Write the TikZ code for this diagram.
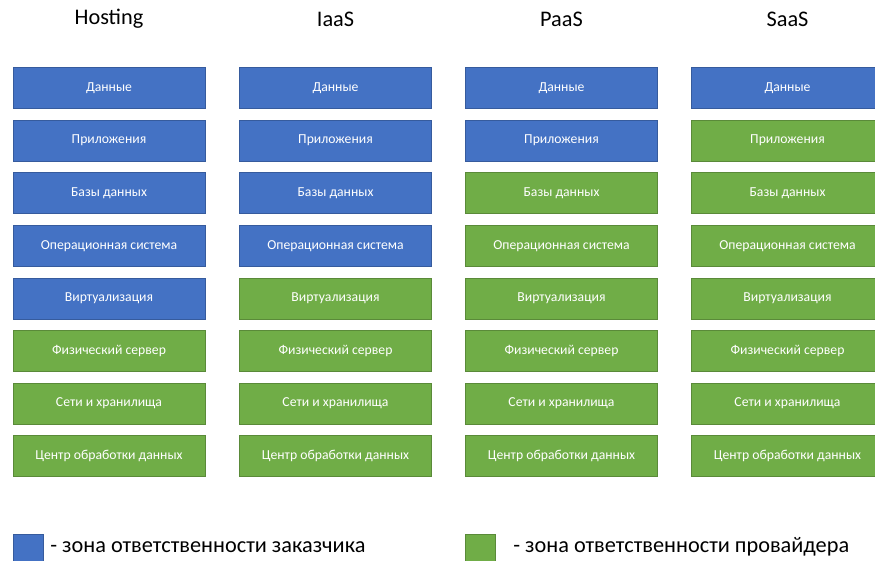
\documentclass[tikz,border=0pt]{standalone}
\usepackage{fontspec}
\setmainfont{Carlito}
\usepackage{tikz}

\definecolor{custblue}{HTML}{4472C4}
\definecolor{provgreen}{HTML}{70AD47}

\tikzset{
    layer/.style={minimum width=192pt, minimum height=41pt, inner sep=0pt,
        text=white, font=\fontsize{13.7}{15}\selectfont},
    custlayer/.style={layer, fill=custblue, draw=custblue!80!black},
    provlayer/.style={layer, fill=provgreen, draw=provgreen!80!black},
    header/.style={font=\fontsize{22.3}{25}\selectfont},
    legendtext/.style={anchor=west, inner sep=0pt, font=\fontsize{22.3}{25}\selectfont}
}

\begin{document}
\begin{tikzpicture}[x=1pt, y=-1pt, line width=0.6pt]
            \useasboundingbox (0, 0) rectangle (875, 560);
            \clip (0, 0) rectangle (875, 560);

            % one column of layers: #1 name, #2 x centre, #3 how many belong to the customer
            \newcommand{\servicecolumn}[3]{
                \node[header] (#1-title) at (#2, 19) {#1};
                \foreach \layertext [count=\row] in {Данные, Приложения, Базы данных,
                        Операционная система, Виртуализация, Физический сервер,
                        Сети и хранилища, Центр обработки данных} {
                    \ifnum\row>#3
                        \node[provlayer] (#1-\row) at (#2, 88+52.6*\row-52.6) {\layertext};
                    \else
                        \node[custlayer] (#1-\row) at (#2, 88+52.6*\row-52.6) {\layertext};
                    \fi
                }
            }

            \servicecolumn{Hosting}{109}{5}
            \servicecolumn{IaaS}{335.5}{4}
            \servicecolumn{PaaS}{561.5}{2}
            \servicecolumn{SaaS}{787.5}{1}

            % legend
            \node[fill=custblue, draw=custblue!80!black, minimum size=30pt, inner sep=0pt] (custkey) at (28, 549) {};
            \node[legendtext] (custlabel) at (50, 547) {- зона ответственности заказчика};
            \node[fill=provgreen, draw=provgreen!80!black, minimum size=30pt, inner sep=0pt] (provkey) at (480, 549) {};
            \node[legendtext] (provlabel) at (513, 547) {- зона ответственности провайдера};
        \end{tikzpicture}
\end{document}
